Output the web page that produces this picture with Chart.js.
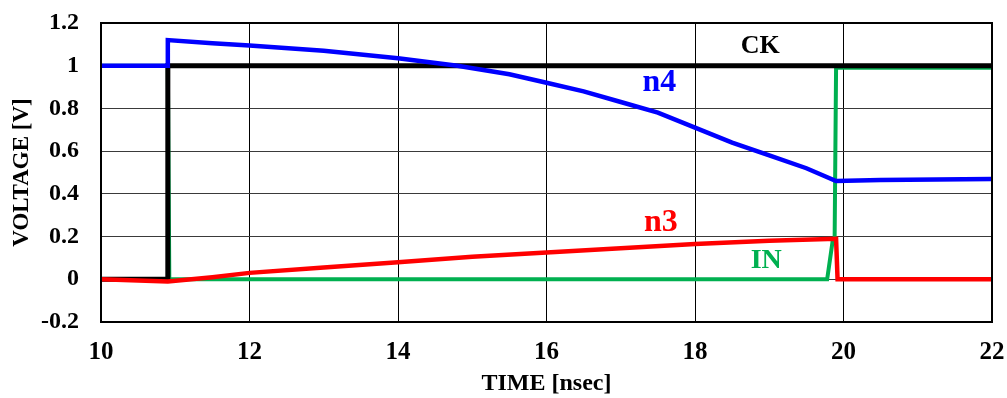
<!DOCTYPE html>
<html>
<head>
<meta charset="utf-8">
<script src="https://cdn.jsdelivr.net/npm/chart.js@4.4.1/dist/chart.umd.min.js"></script>
<style>
  html, body { margin: 0; padding: 0; background: #fff; }
  #wrap { width: 1007px; height: 398px; position: relative; }
</style>
</head>
<body>
<div id="wrap"><canvas id="c" width="1007" height="398"></canvas></div>
<script>
// ---- data (time in nsec, voltage in V) ----
const ckTime  = [10, 10.9, 10.9, 22];
const ckVolt  = [0, 0, 1, 1];

const n4Time  = [10, 10.9, 10.9, 11.5, 12, 13, 14, 14.8, 15.5, 16, 16.5, 17, 17.5, 18, 18.5, 19, 19.5, 19.9, 20.5, 22];
const n4Volt  = [1, 1, 1.12, 1.105, 1.095, 1.07, 1.035, 1.0, 0.96, 0.92, 0.88, 0.83, 0.78, 0.71, 0.64, 0.58, 0.52, 0.46, 0.465, 0.47];

const n3Time  = [10, 10.9, 11.5, 12, 13, 14, 15, 16, 17, 18, 19, 19.9, 19.92, 22];
const n3Volt  = [0, -0.01, 0.01, 0.03, 0.055, 0.08, 0.105, 0.125, 0.145, 0.165, 0.18, 0.19, 0, 0];

const inTime  = [10, 10.9, 10.92, 19.78, 19.85, 19.88, 19.9, 22];
const inVolt  = [1, 1, 0, 0, 0.17, 0.17, 0.99, 0.99];

const xTickLabels = ['10', '12', '14', '16', '18', '20', '22'];
const yTickLabels = ['-0.2', '0', '0.2', '0.4', '0.6', '0.8', '1', '1.2'];

const seriesNames = ['CK', 'n4', 'n3', 'IN'];

function pts(t, v) { return t.map((x, i) => ({ x: x, y: v[i] })); }

// label annotations anchored in data coordinates
const annotations = [
  { text: 'CK', x: 18.88, y: 1.09, color: '#000000', size: 26 },
  { text: 'n4', x: 17.52, y: 0.92, color: '#0000FF', size: 32 },
  { text: 'n3', x: 17.54, y: 0.265, color: '#FF0000', size: 32 },
  { text: 'IN', x: 18.96, y: 0.085, color: '#00B050', size: 28 }
];

const labelPlugin = {
  id: 'labels',
  afterDatasetsDraw(chart) {
    const ctx = chart.ctx;
    const xs = chart.scales.x, ys = chart.scales.y;
    ctx.save();
    ctx.textAlign = 'center';
    ctx.textBaseline = 'middle';
    annotations.forEach(a => {
      ctx.font = 'bold ' + a.size + 'px "Liberation Serif", "Times New Roman", serif';
      ctx.fillStyle = a.color;
      ctx.fillText(a.text, xs.getPixelForValue(a.x), ys.getPixelForValue(a.y));
    });
    ctx.restore();
  }
};

const FONT = '"Liberation Serif", "Times New Roman", serif';

new Chart(document.getElementById('c'), {
  type: 'scatter',
  data: {
    datasets: [
      { label: seriesNames[2], data: pts(n3Time, n3Volt), borderColor: '#FF0000', borderWidth: 4.5, order: 1 },
      { label: seriesNames[1], data: pts(n4Time, n4Volt), borderColor: '#0000FF', borderWidth: 4.5, order: 2 },
      { label: seriesNames[0], data: pts(ckTime, ckVolt), borderColor: '#000000', borderWidth: 5, order: 3 },
      { label: seriesNames[3], data: pts(inTime, inVolt), borderColor: '#00B050', borderWidth: 4, order: 4 }
    ].map(d => Object.assign(d, { showLine: true, pointRadius: 0, tension: 0, fill: false, borderJoinStyle: 'miter' }))
  },
  options: {
    responsive: false,
    animation: false,
    devicePixelRatio: 1,
    layout: { padding: { top: 23, right: 15, left: 0, bottom: 0 } },
    plugins: { legend: { display: false }, tooltip: { enabled: false } },
    scales: {
      x: {
        type: 'linear', min: 10, max: 22,
        afterFit(s) { s.height = 76; s.paddingLeft = 0; s.paddingRight = 0; },
        border: { display: true, color: '#000', width: 2 },
        grid: { color: '#000', lineWidth: 1, drawTicks: false },
        ticks: {
          stepSize: 2, padding: 16, color: '#000', maxRotation: 0,
          font: { family: FONT, size: 25, weight: 'bold' },
          callback: (v, i) => xTickLabels[i]
        },
        title: {
          display: true, text: 'TIME [nsec]', color: '#000',
          font: { family: FONT, size: 24, weight: 'bold' },
          padding: { top: 0, bottom: 0 }
        }
      },
      y: {
        type: 'linear', min: -0.2, max: 1.2,
        afterFit(s) { s.width = 101; s.paddingTop = 0; s.paddingBottom = 0; },
        border: { display: true, color: '#000', width: 2 },
        grid: { color: '#3a3a3a', lineWidth: 1, drawTicks: false },
        ticks: {
          stepSize: 0.2, padding: 22, color: '#000',
          font: { family: FONT, size: 24, weight: 'bold' },
          callback: (v, i) => yTickLabels[i]
        },
        title: {
          display: true, text: 'VOLTAGE [V]', color: '#000',
          font: { family: FONT, size: 23, weight: 'bold' },
          padding: { top: 8, bottom: 0 }
        }
      }
    }
  },
  plugins: [labelPlugin, {
    id: 'frame',
    afterDraw(chart) {
      const a = chart.chartArea, ctx = chart.ctx;
      ctx.save();
      ctx.strokeStyle = '#000'; ctx.lineWidth = 2;
      ctx.strokeRect(a.left, a.top, a.right - a.left, a.bottom - a.top);
      ctx.restore();
    }
  }]
});
</script>
</body>
</html>
